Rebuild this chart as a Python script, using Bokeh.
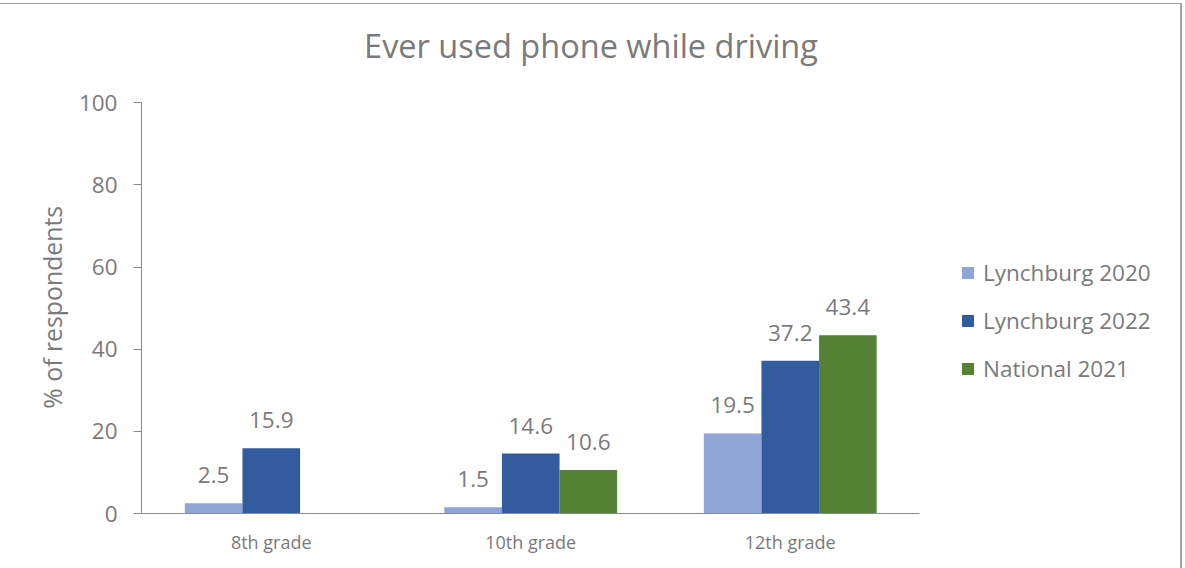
from bokeh.plotting import figure
from bokeh.models import (ColumnDataSource, Range1d, FixedTicker,
                          Legend, LegendItem, Label)
from bokeh.core.properties import value
from bokeh.embed import file_html
from bokeh.resources import INLINE

# ---- data ----
grades = ["8th grade", "10th grade", "12th grade"]
series_names = ["Lynchburg 2020", "Lynchburg 2022", "National 2021"]
lynchburg_2020 = [2.5, 1.5, 19.5]
lynchburg_2022 = [15.9, 14.6, 37.2]
national_2021 = [None, 10.6, 43.4]
y_ticks = [0, 20, 40, 60, 80, 100]

title_text = "Ever used phone while driving"
y_title = "% of respondents"

colors = ["#8FA5D5", "#335C9F", "#548235"]
text_color = "#7a7a7a"
axis_color = "#8a8a8a"
FONT = "Open Sans"

# ---- layout (pixels) ----
W, H = 1182, 565            # figure size (incl. 1px top / 2px right border)
canvas_w = W - 2
plot_left, plot_right = 141, 918    # axis area in page px
y0_px, y100_px, canvas_top = 512, 102, 4

n = len(grades)
x_end = n * (canvas_w - plot_left) / (plot_right - plot_left)
y_end = 100 * (y0_px - canvas_top) / (y0_px - y100_px)

p = figure(x_range=Range1d(0, x_end), y_range=Range1d(0, y_end),
           width=W, height=H,
           output_backend="svg", toolbar_location=None,
           min_border_left=plot_left, min_border_right=0,
           min_border_top=0, min_border_bottom=H - 1 - (y0_px - canvas_top))
p.outline_line_color = None
p.xgrid.visible = False
p.ygrid.visible = False
p.background_fill_color = "white"
p.border_fill_color = "white"
p.styles = {"margin-top": "3px",
            "border-top": "1px solid #a0a0a0",
            "border-right": "2px solid #a6a6a6"}

centers = [i + 0.5 for i in range(n)]
width = 0.222
offsets = [-width, 0.0, width]
all_series = [lynchburg_2020, lynchburg_2022, national_2021]

legend_items = []
for name, vals, off, col in zip(series_names, all_series, offsets, colors):
    xs = [c + off for c, v in zip(centers, vals) if v is not None]
    ys = [v for v in vals if v is not None]
    src = ColumnDataSource(dict(x=xs, top=ys, label=[f"{v:.1f}" for v in ys]))
    r = p.vbar(x="x", top="top", width=width, source=src,
               fill_color=col, line_color=None)
    p.text(x="x", y="top", text="label", source=src,
           text_align="center", text_baseline="alphabetic", y_offset=-28,
           text_font=value(FONT), text_font_size="22.5px", text_color=text_color)
    legend_items.append(LegendItem(label=name, renderers=[r]))

legend = Legend(items=legend_items, location=(819, 129),
                label_text_font=FONT, label_text_font_size="22.5px",
                label_text_color=text_color, glyph_width=15, glyph_height=15,
                label_standoff=8, spacing=17, padding=0, margin=0,
                label_height=30, border_line_color=None, background_fill_alpha=0)
p.add_layout(legend, "center")

# chart title
p.add_layout(Label(x=449.5, y=468, x_units="screen", y_units="screen",
                   text=title_text, text_align="center", text_baseline="alphabetic",
                   text_font=FONT, text_font_size="32.5px", text_color=text_color))

# y axis (label padded with no-break spaces so it centres on the 0-100 span)
p.yaxis.bounds = (0, 100)
p.yaxis.ticker = FixedTicker(ticks=y_ticks)
p.yaxis.axis_label = y_title + "\u00a0" * 15
p.yaxis.axis_label_text_font = FONT
p.yaxis.axis_label_text_font_size = "24.8px"
p.yaxis.axis_label_text_font_style = "normal"
p.yaxis.axis_label_text_color = text_color
p.yaxis.axis_label_standoff = 7
p.yaxis.major_label_text_font = FONT
p.yaxis.major_label_text_font_size = "22.5px"
p.yaxis.major_label_text_color = text_color
p.yaxis.major_label_standoff = 16
p.yaxis.major_tick_out = 8
p.yaxis.major_tick_in = 0
p.yaxis.minor_tick_out = 0
p.yaxis.minor_tick_in = 0
p.yaxis.axis_line_color = axis_color
p.yaxis.major_tick_line_color = axis_color

# x axis
p.xaxis.bounds = (0, n)
p.xaxis.ticker = FixedTicker(ticks=centers)
p.xaxis.major_label_overrides = {c: g for c, g in zip(centers, grades)}
p.xaxis.major_label_text_font = FONT
p.xaxis.major_label_text_font_size = "18px"
p.xaxis.major_label_text_color = text_color
p.xaxis.major_label_standoff = 10
p.xaxis.major_tick_line_color = None
p.xaxis.minor_tick_line_color = None
p.xaxis.axis_line_color = axis_color

open("out.html", "w").write(file_html(p, INLINE))
